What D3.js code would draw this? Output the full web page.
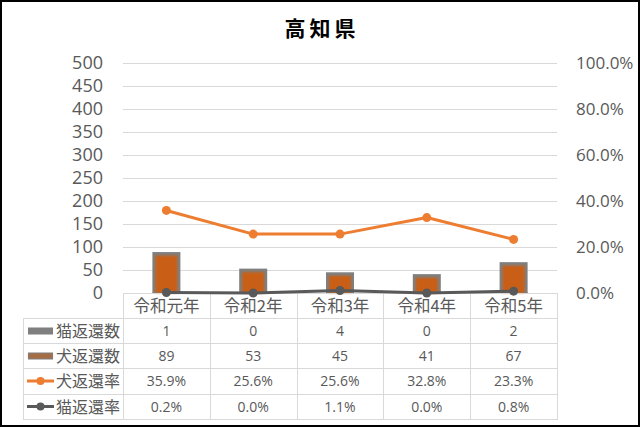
<!DOCTYPE html>
<html lang="ja">
<head>
  <meta charset="UTF-8">
  <title>高知県</title>
  <script src="https://d3js.org/d3.v7.min.js"></script>
  <style>
    * { margin: 0; padding: 0; }
    body { background: #fff; }
    svg { display: block; font-family: "Noto Sans CJK JP", "Noto Sans", sans-serif; }
  </style>
</head>
<body>
  <svg id="chart" width="640" height="427"></svg>
  <script>
    var title = "高知県";
    var categories = ["令和元年", "令和2年", "令和3年", "令和4年", "令和5年"];
    var catCount = [1, 0, 4, 0, 2];
    var dogCount = [89, 53, 45, 41, 67];
    var dogRate = [35.9, 25.6, 25.6, 32.8, 23.3];
    var catRate = [0.2, 0.0, 1.1, 0.0, 0.8];
    var leftTicks = [0, 50, 100, 150, 200, 250, 300, 350, 400, 450, 500];
    var rightTicks = [0, 20, 40, 60, 80, 100];

    var svg = d3.select("#chart");
    var W = 640, H = 427;
    var pLeft = 123, pRight = 557, pTop = 63, pBase = 293;
    var textCol = "#595959", gridCol = "#d9d9d9";
    var orange = "#ED7D31", dark = "#595959";

    // 外枠
    svg.append("rect").attr("x", 1).attr("y", 1).attr("width", W - 2).attr("height", H - 2)
      .attr("fill", "#fff").attr("stroke", "#000").attr("stroke-width", 2);

    svg.append("text").attr("x", 322).attr("y", 36).attr("text-anchor", "middle")
      .attr("font-size", 21).attr("font-weight", "bold").attr("letter-spacing", 4)
      .attr("fill", "#000").text(title);

    var x = d3.scaleBand().domain(categories).range([pLeft, pRight]);
    var y = d3.scaleLinear().domain([0, 500]).range([pBase, pTop]);
    var y2 = d3.scaleLinear().domain([0, 100]).range([pBase, pTop]);

    // グリッド
    svg.append("g").selectAll("line").data(leftTicks.slice(1)).join("line")
      .attr("x1", pLeft).attr("x2", pRight)
      .attr("y1", function(d) { return Math.round(y(d)) + 0.5; })
      .attr("y2", function(d) { return Math.round(y(d)) + 0.5; })
      .attr("stroke", gridCol).attr("stroke-width", 1);

    // 左軸
    var yAxis = svg.append("g").attr("transform", "translate(" + (pLeft - 20) + ",0)")
      .call(d3.axisLeft(y).tickValues(leftTicks).tickSize(0).tickPadding(0));
    yAxis.select(".domain").remove();
    yAxis.selectAll("text").attr("font-size", 18).attr("fill", textCol)
      .attr("font-family", "'Open Sans', 'Noto Sans', sans-serif");

    // 右軸
    var y2Axis = svg.append("g").attr("transform", "translate(" + (pRight + 19) + ",0)")
      .call(d3.axisRight(y2).tickValues(rightTicks).tickSize(0).tickPadding(0)
        .tickFormat(function(d) { return d.toFixed(1) + "%"; }));
    y2Axis.select(".domain").remove();
    y2Axis.selectAll("text").attr("font-size", 17).attr("fill", textCol)
      .attr("font-family", "'Open Sans', 'Noto Sans', sans-serif");

    // 棒
    var defs = svg.append("defs");
    defs.append("filter").attr("id", "soft").append("feGaussianBlur").attr("stdDeviation", 1);
    var bw = 28;
    var bx = function(d, i) { return x(categories[i]) + x.bandwidth() / 2 - bw / 2; };
    var bars = svg.append("g");
    bars.selectAll(".cat").data(catCount).join("rect").attr("class", "cat")
      .attr("x", bx).attr("y", function(d) { return y(d); })
      .attr("width", bw).attr("height", function(d) { return pBase - y(d); })
      .attr("fill", "#7f7f7f");
    bars.selectAll(".dog").data(dogCount).join("rect").attr("class", "dog")
      .attr("x", bx).attr("y", function(d) { return y(d); })
      .attr("width", bw).attr("height", function(d) { return pBase - y(d); })
      .attr("fill", "#7f7f7f");
    bars.selectAll(".dogIn").data(dogCount).join("rect").attr("class", "dogIn")
      .attr("x", function(d, i) { return bx(d, i) + 3; })
      .attr("y", function(d) { return y(d) + 3.5; })
      .attr("width", bw - 6).attr("height", function(d) { return Math.max(0, pBase - y(d) - 3.5); })
      .attr("fill", "#C95E14").attr("filter", "url(#soft)");

    // データテーブル
    var rowY = [pBase, 318, 343, 368, 394, 419];
    var tLeft = 23;
    var tbl = svg.append("g").attr("stroke", gridCol).attr("stroke-width", 1);
    rowY.slice(1).forEach(function(ry) {
      tbl.append("line").attr("x1", tLeft).attr("x2", pRight + 1).attr("y1", ry + 0.5).attr("y2", ry + 0.5);
    });
    tbl.append("line").attr("x1", tLeft + 0.5).attr("x2", tLeft + 0.5).attr("y1", rowY[1]).attr("y2", rowY[5]);
    categories.forEach(function(c) {
      var xx = Math.round(x(c)) + 0.5;
      tbl.append("line").attr("x1", xx).attr("x2", xx).attr("y1", pBase).attr("y2", rowY[5]);
    });
    tbl.append("line").attr("x1", pRight + 0.5).attr("x2", pRight + 0.5).attr("y1", pBase).attr("y2", rowY[5]);

    // 横軸 (基線)
    svg.append("line").attr("x1", pLeft).attr("x2", pRight).attr("y1", pBase + 0.5).attr("y2", pBase + 0.5)
      .attr("stroke", gridCol).attr("stroke-width", 1);

    // 折れ線
    var cx = function(d, i) { return x(categories[i]) + x.bandwidth() / 2; };
    function drawLine(data, col) {
      var line = d3.line().x(cx).y(function(d) { return y2(d); });
      svg.append("path").datum(data).attr("d", line).attr("fill", "none")
        .attr("stroke", col).attr("stroke-width", 3).attr("stroke-linejoin", "round");
      svg.append("g").selectAll("circle").data(data).join("circle")
        .attr("cx", cx).attr("cy", function(d) { return y2(d); }).attr("r", 4.5).attr("fill", col);
    }
    drawLine(catRate, dark);
    drawLine(dogRate, orange);

    var rows = [
      { name: "猫返還数", vals: catCount, fmt: function(d) { return d; }, key: "catBar" },
      { name: "犬返還数", vals: dogCount, fmt: function(d) { return d; }, key: "dogBar" },
      { name: "犬返還率", vals: dogRate, fmt: function(d) { return d.toFixed(1) + "%"; }, key: "dogLine" },
      { name: "猫返還率", vals: catRate, fmt: function(d) { return d.toFixed(1) + "%"; }, key: "catLine" }
    ];

    svg.append("g").selectAll("text").data(categories).join("text")
      .attr("x", function(d) { return x(d) + x.bandwidth() / 2; })
      .attr("y", (rowY[0] + rowY[1]) / 2 + 6).attr("text-anchor", "middle")
      .attr("font-size", 16.5).attr("fill", textCol).text(function(d) { return d; });

    rows.forEach(function(r, ri) {
      var mid = (rowY[ri + 1] + rowY[ri + 2]) / 2;
      svg.append("g").selectAll("text").data(r.vals).join("text")
        .attr("x", function(d, i) { return x(categories[i]) + x.bandwidth() / 2; })
        .attr("y", mid + 5).attr("text-anchor", "middle")
        .attr("font-size", 14).attr("fill", textCol)
        .attr("font-family", "'Open Sans', 'Noto Sans', sans-serif")
        .text(r.fmt);
      svg.append("text").attr("x", 56).attr("y", mid + 6).attr("font-size", 16)
        .attr("fill", textCol).text(r.name);
      if (r.key === "catBar" || r.key === "dogBar") {
        svg.append("rect").attr("x", 28).attr("y", mid - 3).attr("width", 25).attr("height", 7)
          .attr("fill", "#7f7f7f");
        if (r.key === "dogBar") {
          svg.append("rect").attr("x", 29).attr("y", mid - 2).attr("width", 23).attr("height", 5)
            .attr("fill", "#a86a3c").attr("filter", "url(#soft)");
        }
      } else {
        var col = r.key === "dogLine" ? orange : dark;
        svg.append("line").attr("x1", 27).attr("x2", 54).attr("y1", mid).attr("y2", mid)
          .attr("stroke", col).attr("stroke-width", 3);
        svg.append("circle").attr("cx", 40.5).attr("cy", mid).attr("r", 4).attr("fill", col);
      }
    });
  </script>
</body>
</html>
